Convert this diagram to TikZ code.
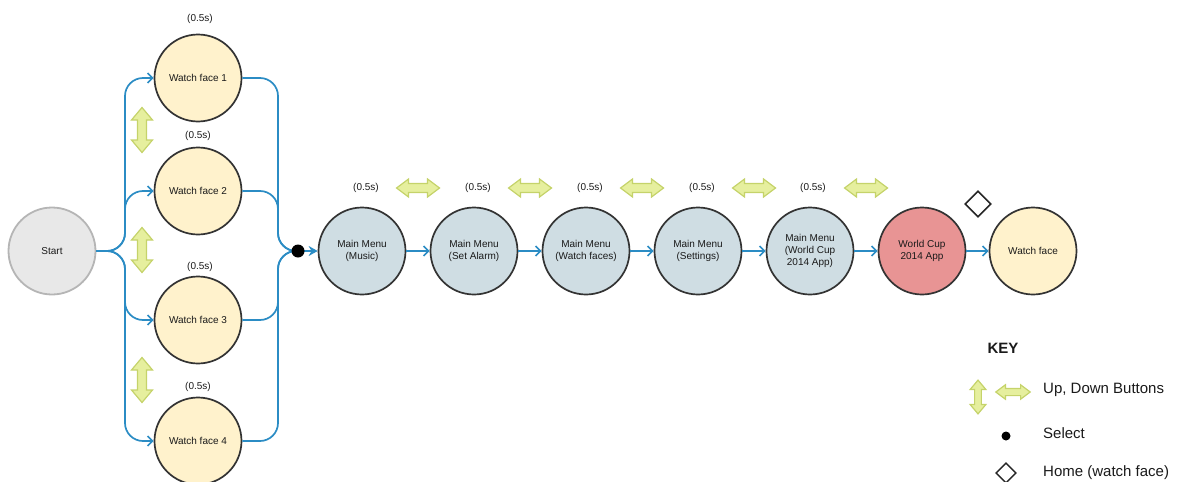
\documentclass[tikz,border=0pt]{standalone}
\usepackage{fontspec}
\setmainfont{Liberation Sans}
\usetikzlibrary{arrows.meta}
\definecolor{edgeblue}{HTML}{2B8CC4}
\definecolor{wfyellow}{HTML}{FFF2CC}
\definecolor{mmblue}{HTML}{CFDDE3}
\definecolor{apppink}{HTML}{E89494}
\definecolor{startgray}{HTML}{E8E8E8}
\definecolor{startline}{HTML}{B5B5B5}
\definecolor{arrfill}{HTML}{E6EF9E}
\definecolor{arrline}{HTML}{C5D36A}
\definecolor{txt}{HTML}{1A1A1A}
\tikzset{
  every node/.style={text=txt},
  statebox/.style={circle, draw=black!80, line width=1.7pt, minimum size=87pt, inner sep=0pt,
    font=\fontsize{10}{12.5}\selectfont, align=center},
  wfstate/.style={statebox, fill=wfyellow},
  mmstate/.style={statebox, fill=mmblue},
  appstate/.style={statebox, fill=apppink},
  startstate/.style={statebox, fill=startgray, draw=startline, line width=1.8pt},
  timelbl/.style={font=\fontsize{10}{12}\selectfont, inner sep=0pt},
  flow/.style={draw=edgeblue, line width=1.7pt, -{Straight Barb[length=5pt,width=10pt,line width=1.6pt]}},
  flowline/.style={draw=edgeblue, line width=1.7pt, rounded corners=18pt},
  btnarrow/.style={fill=arrfill, draw=arrline, line width=1.2pt, line join=miter},
  keytext/.style={font=\fontsize{15}{18}\selectfont, anchor=west, inner sep=0pt},
  hdarrow/.pic={\path[btnarrow] (-21.5,0) -- (-9.5,-9) -- (-9.5,-4.5) -- (9.5,-4.5) -- (9.5,-9) -- (21.5,0)
      -- (9.5,9) -- (9.5,4.5) -- (-9.5,4.5) -- (-9.5,9) -- cycle;},
  vdarrow/.pic={\path[btnarrow] (0,-22.5) -- (-10.5,-10) -- (-4.5,-10) -- (-4.5,10) -- (-10.5,10) -- (0,22.5)
      -- (10.5,10) -- (4.5,10) -- (4.5,-10) -- (10.5,-10) -- cycle;}
}
\begin{document}
\begin{tikzpicture}[x=1pt,y=-1pt]
\useasboundingbox (0,0) rectangle (1181,482);

% states
\node[startstate] (start) at (52,251) {Start};
\node[wfstate] (wf1) at (198,78) {Watch face 1};
\node[wfstate] (wf2) at (198,191) {Watch face 2};
\node[wfstate] (wf3) at (198,320) {Watch face 3};
\node[wfstate] (wf4) at (198,441) {Watch face 4};

\node[mmstate] (mm1) at (362,251) {Main Menu\\(Music)};
\node[mmstate] (mm2) at (474,251) {Main Menu\\(Set Alarm)};
\node[mmstate] (mm3) at (586,251) {Main Menu\\(Watch faces)};
\node[mmstate] (mm4) at (698,251) {Main Menu\\(Settings)};
\node[mmstate, font=\fontsize{10}{12}\selectfont] (mm5) at (810,251) {Main Menu\\(World Cup\\2014 App)};
\node[appstate] (app) at (922,251) {World Cup\\2014 App};
\node[wfstate] (wfend) at (1033,251) {Watch face};

% timing labels
\node[timelbl] (t1) at (200,19) {(0.5s)};
\node[timelbl] (t2) at (198,136) {(0.5s)};
\node[timelbl] (t3) at (200,267) {(0.5s)};
\node[timelbl] (t4) at (198,387) {(0.5s)};
\node[timelbl] (t5) at (366,188) {(0.5s)};
\node[timelbl] (t6) at (478,188) {(0.5s)};
\node[timelbl] (t7) at (590,188) {(0.5s)};
\node[timelbl] (t8) at (702,188) {(0.5s)};
\node[timelbl] (t9) at (813,188) {(0.5s)};

% button arrows
\pic at (142,130) {vdarrow};
\pic at (142,250) {vdarrow};
\pic at (142,380) {vdarrow};
\pic at (418,188) {hdarrow};
\pic at (530,188) {hdarrow};
\pic at (642,188) {hdarrow};
\pic at (754,188) {hdarrow};
\pic at (866,188) {hdarrow};

% select point
\coordinate (sel) at (298,251);

% start -> watch faces
\foreach \w in {wf1,wf2,wf3,wf4}{
  \draw[flowline, flow] (start.east) -- (125,251) |- (\w.west);
}
% watch faces -> select
\foreach \w in {wf1,wf2,wf3,wf4}{
  \draw[flowline] (\w.east) -| (278,251) -- (sel);
}
\draw[edgeblue, line width=1.7pt, -{Stealth[length=9pt,width=10pt]}] (sel) -- (mm1.west);
\fill[black] (sel) circle (6.5);

% main chain
\draw[flow] (mm1) -- (mm2);
\draw[flow] (mm2) -- (mm3);
\draw[flow] (mm3) -- (mm4);
\draw[flow] (mm4) -- (mm5);
\draw[flow] (mm5) -- (app);
\draw[flow] (app) -- (wfend);

\node[draw=black!85, line width=1.7pt, fill=white, minimum size=18pt, rotate=45, inner sep=0pt] (home) at (978,204) {};

% key
\node[font=\bfseries\fontsize{15}{18}\selectfont, inner sep=0pt] (key) at (1003,348) {KEY};
\pic[scale=0.75] at (978,397) {vdarrow};
\pic[scale=0.8] at (1013,392) {hdarrow};
\node[keytext] (kup) at (1043,390) {Up, Down Buttons};
\fill[black] (1006,436) circle (4.5) coordinate (kdot);
\node[keytext] (ksel) at (1043,433) {Select};
\node[draw=black!85, line width=1.3pt, fill=white, minimum size=14pt, rotate=45, inner sep=0pt] (khome) at (1006,473) {};
\node[keytext] (kh) at (1043,473) {Home (watch face)};
\end{tikzpicture}
\end{document}
